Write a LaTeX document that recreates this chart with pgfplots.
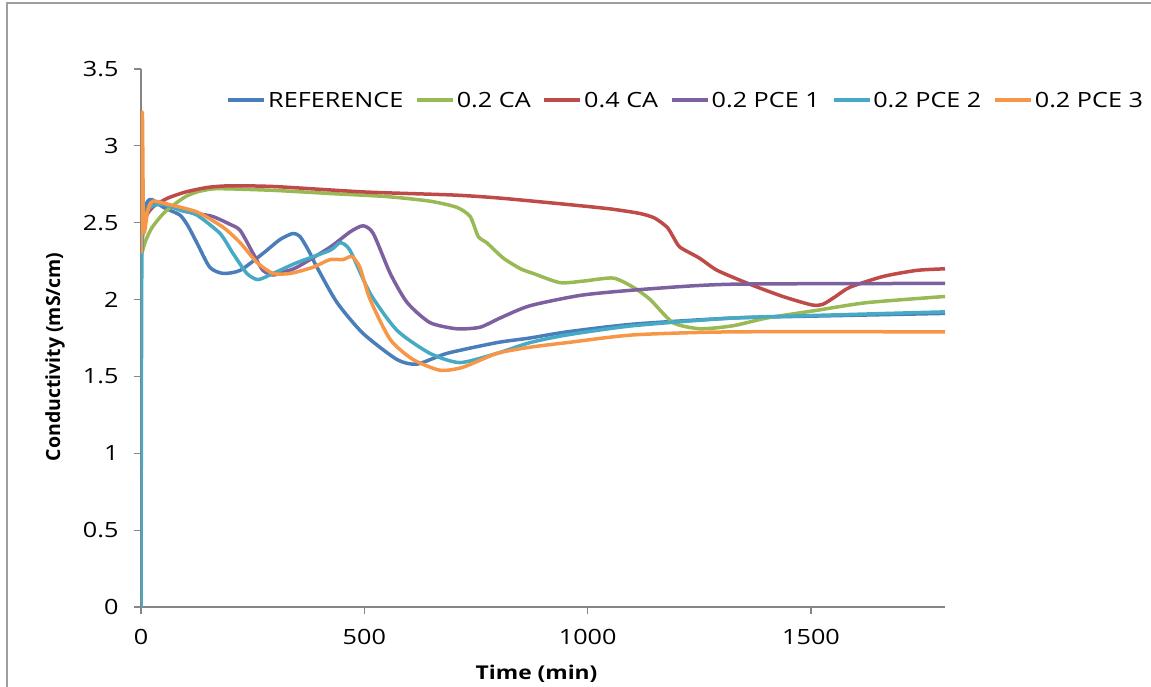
\documentclass[border=0pt]{standalone}
\usepackage{fontspec}
\setmainfont{Open Sans}[FakeStretch=1.2]
\newfontfamily\ylabfont{Open Sans}
\usepackage{pgfplots}
\pgfplotsset{compat=1.18}
\definecolor{cblue}{HTML}{4A7EBB}
\definecolor{cgreen}{HTML}{98B954}
\definecolor{cred}{HTML}{BE4B48}
\definecolor{cpurple}{HTML}{7D60A0}
\definecolor{ccyan}{HTML}{46AAC5}
\definecolor{corange}{HTML}{F79646}
\definecolor{axgray}{HTML}{868686}
\begin{document}
\begin{tikzpicture}
\useasboundingbox (0,0) rectangle (1151pt,687pt);
\draw[color=axgray!80, line width=2pt] (7pt,-5pt) -- (7pt,684pt) -- (1160pt,684pt);
\begin{axis}[
  at={(141pt,80pt)}, anchor=south west,
  scale only axis, width=804pt, height=538pt,
  xmin=0, xmax=1800, ymin=0, ymax=3.5,
  xtick={0,500,1000,1500}, ytick={0,0.5,...,3.5},
  axis x line=bottom, axis y line=left,
  axis line style={-, color=axgray, line width=1.2pt},
  tick style={color=axgray, line width=1.2pt},
  tick align=outside, major tick length=7pt,
  /pgf/number format/assume math mode=true,
  /pgf/number format/1000 sep={},
  ticklabel style={font=\fontsize{21}{24}\selectfont},
  yticklabel style={xshift=-12pt},
  xticklabel style={yshift=-12pt},
  xlabel={Time (min)},
  ylabel={Conductivity (mS/cm)},
  xlabel style={at={(axis description cs:0.492,-0.1245)}, anchor=center, font=\fontsize{19}{22}\selectfont\bfseries},
  ylabel style={at={(axis description cs:-0.107,0.465)}, anchor=center, rotate=0, font=\fontsize{19.5}{22}\selectfont\ylabfont\bfseries},
  legend columns=6,
  legend style={draw=none, fill=none, at={(1.249,0.942)}, anchor=east,
    font=\fontsize{21}{24}\selectfont,
    /tikz/every even column/.append style={column sep=10pt},
    inner sep=0pt},
  legend cell align=left,
  legend image code/.code={\draw[#1, line width=3.5pt] (0pt,0pt) -- (36pt,0pt);},
  every axis plot/.append style={line width=3.5pt, line join=round, smooth, tension=0.4},
]
% REFERENCE
\addplot[cblue] coordinates {(0,2.3) (5,2.55) (15,2.64) (25,2.65) (50,2.60) (87,2.55) (105,2.48) (125,2.37) (154,2.21) (184,2.17) (222,2.19) (273,2.30) (311,2.39) (340,2.43) (356,2.41) (375,2.32) (394,2.21) (439,1.98) (497,1.78) (573,1.61) (618,1.58) (685,1.65) (797,1.72) (871,1.75) (954,1.79) (1102,1.84) (1326,1.88) (1550,1.895) (1800,1.91)};
\addlegendentry{REFERENCE}
% 0.2 CA
\addplot[cgreen] coordinates {(0,2.28) (10,2.38) (25,2.47) (50,2.56) (75,2.62) (100,2.67) (125,2.70) (160,2.72) (200,2.72) (300,2.71) (423,2.69) (550,2.67) (647,2.64) (707,2.60) (737,2.54) (755,2.41) (774,2.37) (811,2.27) (850,2.20) (878,2.17) (938,2.11) (990,2.12) (1057,2.14) (1102,2.08) (1140,2.00) (1191,1.85) (1252,1.81) (1326,1.83) (1401,1.88) (1513,1.93) (1625,1.98) (1800,2.02)};
\addlegendentry{0.2 CA}
% 0.4 CA
\addplot[cred] coordinates {(0,2.30) (5,2.48) (15,2.56) (30,2.61) (60,2.66) (100,2.70) (150,2.73) (200,2.74) (300,2.735) (500,2.70) (700,2.68) (804,2.66) (950,2.62) (1050,2.59) (1117,2.56) (1150,2.53) (1178,2.47) (1193,2.40) (1207,2.34) (1250,2.27) (1290,2.19) (1363,2.10) (1437,2.02) (1502,1.965) (1527,1.97) (1555,2.02) (1587,2.08) (1661,2.15) (1737,2.19) (1800,2.20)};
\addlegendentry{0.4 CA}
% 0.2 PCE 1
\addplot[cpurple] coordinates {(0,2.3) (8,2.52) (20,2.6) (35,2.63) (50,2.63) (90,2.58) (125,2.56) (161,2.54) (199,2.49) (222,2.45) (251,2.30) (273,2.19) (296,2.16) (320,2.18) (349,2.21) (423,2.34) (468,2.44) (497,2.48) (520,2.43) (558,2.17) (596,1.98) (647,1.85) (707,1.81) (759,1.82) (804,1.88) (871,1.96) (990,2.03) (1140,2.07) (1326,2.10) (1800,2.105)};
\addlegendentry{0.2 PCE 1}
% 0.2 PCE 2
\addplot[ccyan] coordinates {(0,0) (2,2.3) (8,2.5) (20,2.6) (50,2.62) (90,2.58) (125,2.55) (177,2.43) (206,2.30) (237,2.17) (262,2.13) (296,2.17) (349,2.24) (423,2.32) (446,2.37) (468,2.32) (513,2.04) (573,1.80) (647,1.65) (714,1.59) (797,1.65) (871,1.72) (954,1.77) (1102,1.83) (1326,1.88) (1550,1.90) (1800,1.92)};
\addlegendentry{0.2 PCE 2}
% 0.2 PCE 3
\addplot[corange] coordinates {(0,2.3) (3,3.22) (6,2.45) (15,2.58) (27,2.64) (60,2.62) (125,2.57) (184,2.47) (222,2.37) (260,2.24) (296,2.17) (334,2.17) (385,2.21) (423,2.26) (452,2.26) (472,2.28) (490,2.21) (513,2.00) (558,1.74) (609,1.61) (670,1.54) (721,1.56) (797,1.65) (871,1.69) (954,1.72) (1102,1.77) (1326,1.79) (1800,1.79)};
\addlegendentry{0.2 PCE 3}
\end{axis}
\end{tikzpicture}
\end{document}
